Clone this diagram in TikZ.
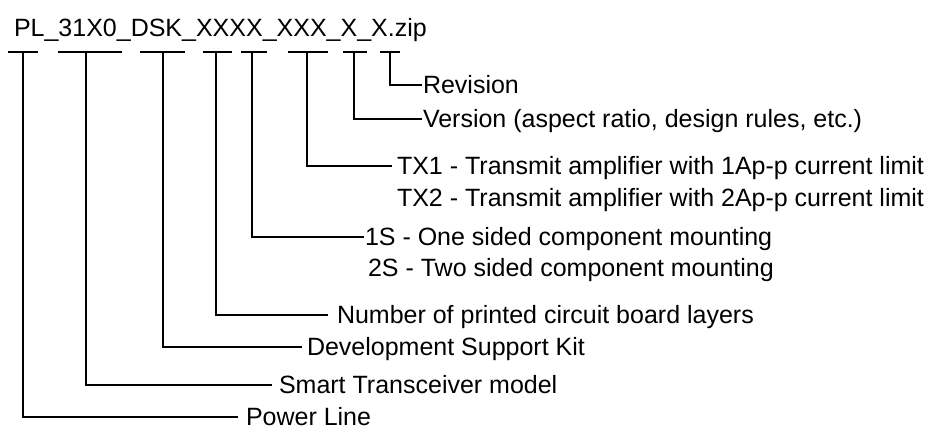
\documentclass[tikz,border=0pt]{standalone}
\usepackage{fontspec}
\setmainfont{Liberation Sans}
\begin{document}
\begin{tikzpicture}[x=0.75pt, y=-0.75pt, line width=1.5pt,
	txt/.style={inner sep=0pt, font=\fontsize{18.75}{22}\selectfont},
	lbl/.style={txt, anchor=west, text height=13.4pt, text depth=0pt}]
	\useasboundingbox (0,0) rectangle (934,429);
	\node[txt, anchor=base west] (fname) at (13,36) {PL\_31X0\_DSK\_XXXX\_XXX\_X\_X.zip};
	\draw (8,52) -- (38,52);
	\draw (58,52) -- (122,52);
	\draw (140,52) -- (185,52);
	\draw (203,52) -- (232,52);
	\draw (241,52) -- (267,52);
	\draw (288,52) -- (328,52);
	\draw (343,52) -- (367,52);
	\draw (380,52) -- (400,52);
	\coordinate (s1) at (23,52);
	\coordinate (s2) at (86,52);
	\coordinate (s3) at (163,52);
	\coordinate (s4) at (216,52);
	\coordinate (s5) at (252,52);
	\coordinate (s6) at (307,52);
	\coordinate (s7) at (354,52);
	\coordinate (s8) at (390,52);
	\node[lbl] (rev) at (422,85) {Revision};
	\node[lbl] (ver) at (422,119) {Version (aspect ratio, design rules, etc.)};
	\node[lbl] (tx1) at (396,166) {TX1 - Transmit amplifier with 1Ap-p current limit};
	\node[lbl] (tx2) at (396,198) {TX2 - Transmit amplifier with 2Ap-p current limit};
	\node[lbl] (one) at (364,237) {1S - One sided component mounting};
	\node[lbl] (two) at (367,268) {2S - Two sided component mounting};
	\node[lbl] (layers) at (336,315) {Number of printed circuit board layers};
	\node[lbl] (dsk) at (306,347) {Development Support Kit};
	\node[lbl] (model) at (278,385) {Smart Transceiver model};
	\node[lbl] (pl) at (245,417) {Power Line};
	\draw (s8) |- (rev.west);
	\draw (s7) |- (ver.west);
	\draw[shorten >=3pt] (s6) |- (tx1.west);
	\draw (s5) |- (one.west);
	\draw[shorten >=6pt] (s4) |- (layers.west);
	\draw[shorten >=3pt] (s3) |- (dsk.west);
	\draw[shorten >=4.5pt] (s2) |- (model.west);
	\draw[shorten >=5.25pt] (s1) |- (pl.west);
\end{tikzpicture}
\end{document}
